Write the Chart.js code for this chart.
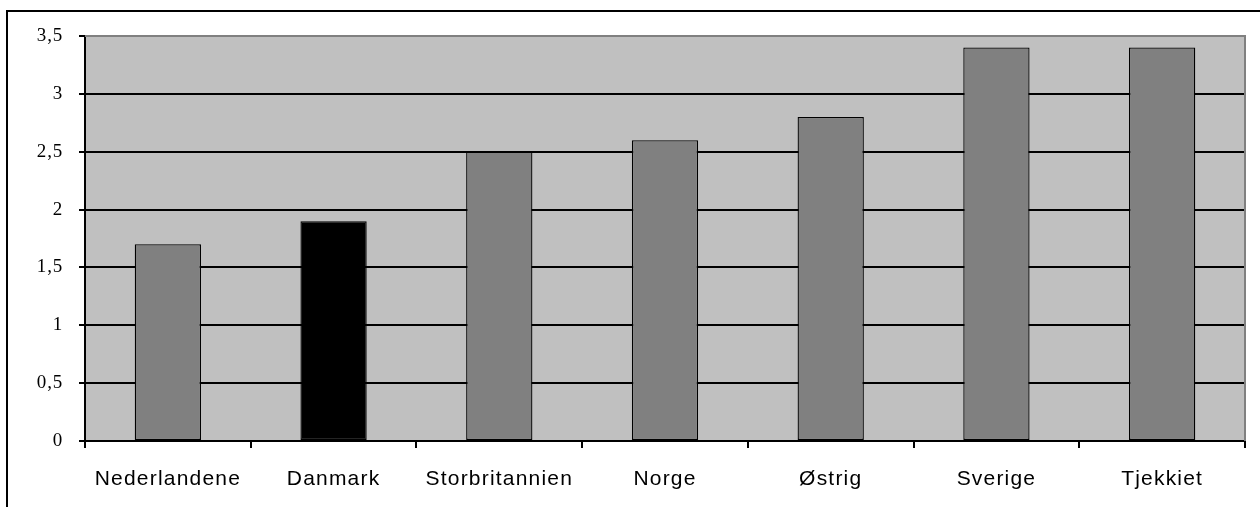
<!DOCTYPE html>
<html>
<head>
<meta charset="utf-8">
<script src="https://cdn.jsdelivr.net/npm/chart.js@4"></script>
<style>
  html, body { margin: 0; padding: 0; background: #fff; }
  #chart { display: block; }
</style>
</head>
<body>
<canvas id="chart" width="1260" height="507"></canvas>
<script>
// ==================================================
// DATA
// ==================================================
const countries = ["Nederlandene", "Danmark", "Storbritannien", "Norge", "Østrig", "Sverige", "Tjekkiet"];
const values = [1.7, 1.9, 2.5, 2.6, 2.8, 3.4, 3.4];
const yTicks = [0, 0.5, 1, 1.5, 2, 2.5, 3, 3.5];
const highlight = "Danmark";

// ==================================================
// FRAME + PLOT BACKGROUND
// ==================================================
const framePlugin = {
  id: "frame",
  beforeDraw(chart) {
    const ctx = chart.ctx;
    const a = chart.chartArea;
    // the source chart looks stretched a bit wide, fake it with spacing
    ctx.letterSpacing = "0.8px";
    ctx.save();
    ctx.fillStyle = "#fff";
    ctx.fillRect(0, 0, chart.width, chart.height);
    // outer border (cut off at right and bottom)
    ctx.strokeStyle = "#000";
    ctx.lineWidth = 2;
    ctx.beginPath();
    ctx.moveTo(7, chart.height);
    ctx.lineTo(7, 11);
    ctx.lineTo(chart.width, 11);
    ctx.stroke();
    // plot area fill
    ctx.fillStyle = "#c0c0c0";
    ctx.fillRect(a.left, a.top, a.right - a.left, a.bottom - a.top);
    ctx.restore();
  },
  afterDatasetsDraw(chart) {
    // x tick labels (ticks.z = 1) get drawn after this
    chart.ctx.letterSpacing = "1.2px";
  },
  afterDraw(chart) {
    const ctx = chart.ctx;
    const a = chart.chartArea;
    ctx.letterSpacing = "0px";
    ctx.save();
    ctx.strokeStyle = "#808080";
    ctx.lineWidth = 2;
    ctx.beginPath();
    ctx.moveTo(a.left, a.top);
    ctx.lineTo(a.right, a.top);
    ctx.lineTo(a.right, a.bottom);
    ctx.stroke();
    ctx.restore();
  },
};

// ==================================================
// CHART
// ==================================================
const ctx = document.getElementById("chart").getContext("2d");
const myChart = new Chart(ctx, {
  type: "bar",
  data: {
    labels: countries,
    datasets: [
      {
        data: values,
        backgroundColor: countries.map((c) => (c === highlight ? "#000000" : "#808080")),
        borderColor: "#000",
        borderWidth: 1.3,
        borderSkipped: false,
        categoryPercentage: 1,
        barPercentage: 0.4,
      },
    ],
  },
  options: {
    responsive: false,
    animation: false,
    layout: { padding: { left: 0, top: 36, right: 15, bottom: 0 } },
    plugins: {
      legend: { display: false },
      tooltip: { enabled: false },
    },
    scales: {
      x: {
        offset: true,
        grid: {
          offset: true,
          drawOnChartArea: false,
          drawTicks: true,
          tickLength: 7,
          color: "#000",
          lineWidth: 2,
        },
        border: { color: "#000", width: 2 },
        ticks: {
          z: 1,
          padding: 19,
          color: "#000",
          font: { family: "Liberation Sans", size: 21 },
          maxRotation: 0,
          autoSkip: false,
        },
        afterFit(scale) {
          scale.height = 66;
        },
      },
      y: {
        min: 0,
        max: 3.5,
        afterBuildTicks(scale) {
          scale.ticks = yTicks.map((v) => ({ value: v }));
        },
        grid: {
          color: (c) => (c.tick && c.tick.value === 3.5 ? "rgba(0,0,0,0)" : "#000"),
          lineWidth: 2,
          tickColor: "#000",
          tickLength: 6,
        },
        border: { color: "#000", width: 2 },
        ticks: {
          padding: 16,
          color: "#000",
          font: { family: "Liberation Serif", size: 19 },
          callback: function (value) {
            return String(value).replace(".", ",");
          },
        },
        afterFit(scale) {
          scale.width = 85;
        },
      },
    },
  },
  plugins: [framePlugin],
});
</script>
</body>
</html>
